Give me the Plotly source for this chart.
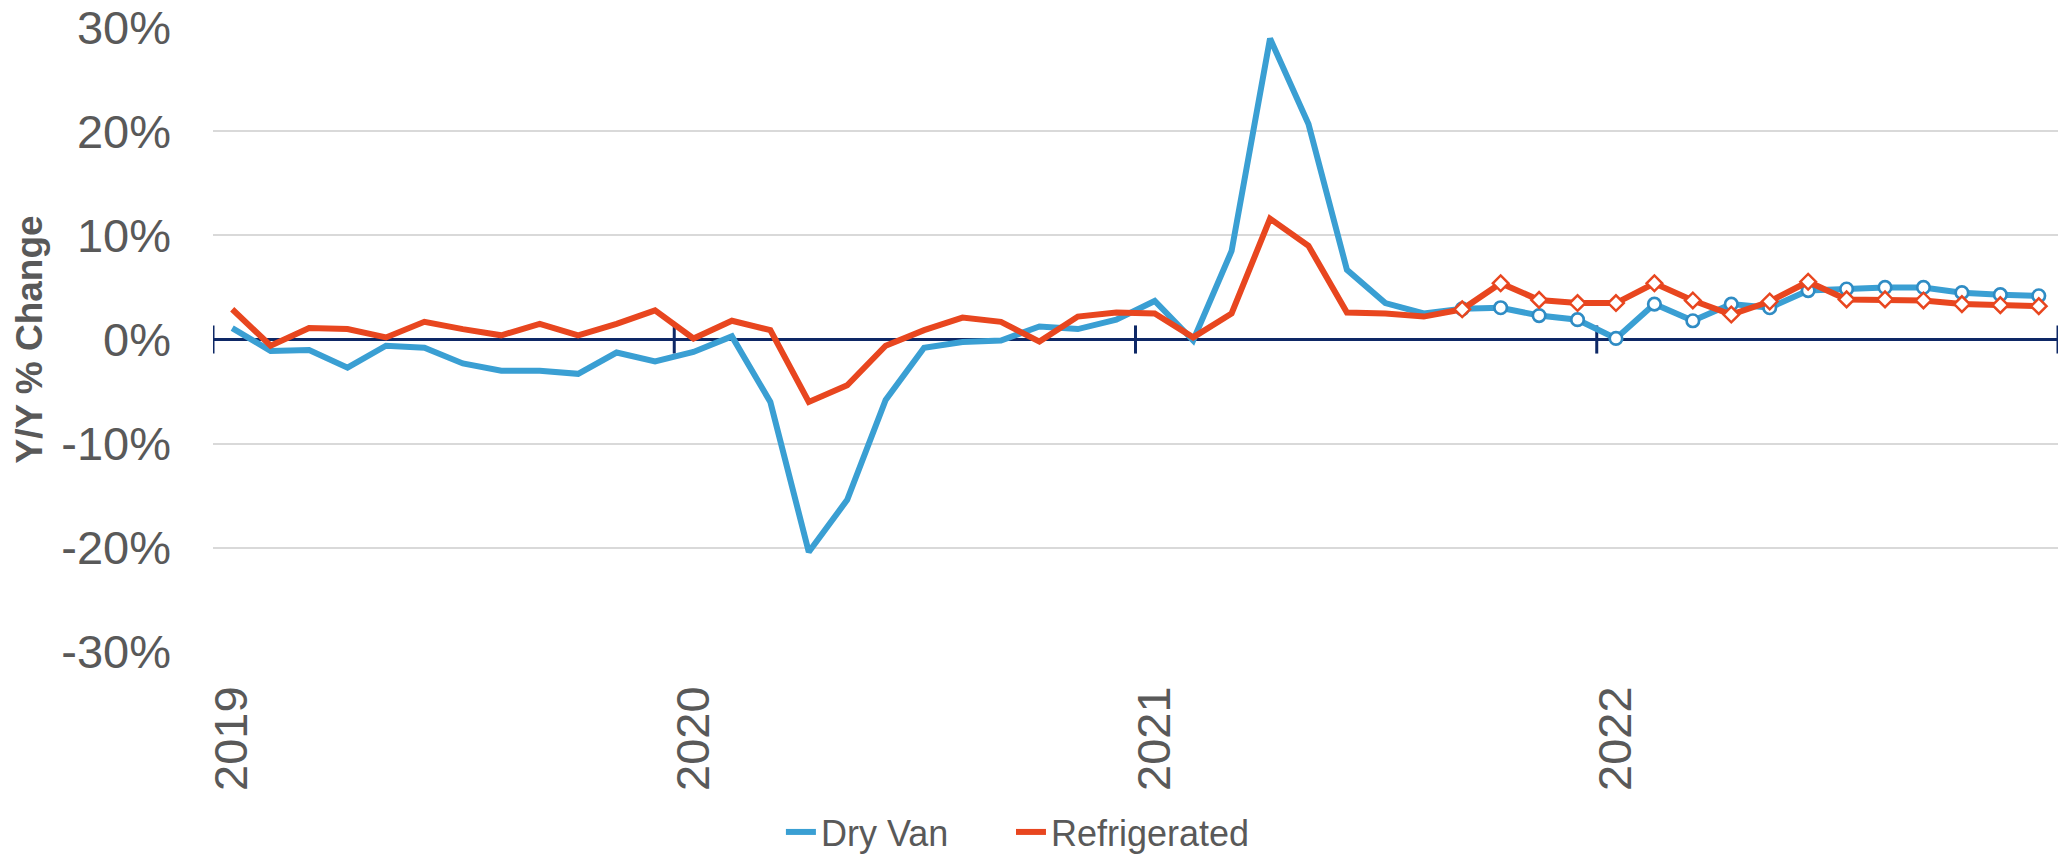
import plotly.graph_objects as go

years = [2019, 2020, 2021, 2022]
months = [f"{y}-{m:02d}" for y in years for m in range(1, 13)]

dry_van = [1.1, -1.1, -1.0, -2.7, -0.6, -0.8, -2.3, -3.0, -3.0, -3.3, -1.25, -2.1,
           -1.2, 0.3, -6.0, -20.4, -15.4, -5.8, -0.8, -0.25, -0.1, 1.25, 1.0, 1.9,
           3.7, -0.1, 8.5, 28.9, 20.7, 6.7, 3.5, 2.5, 2.95, 3.05, 2.3, 1.9,
           0.1, 3.4, 1.8, 3.4, 3.05, 4.7, 4.85, 5.0, 5.0, 4.5, 4.3, 4.2]
refrigerated = [2.9, -0.6, 1.1, 1.0, 0.2, 1.7, 1.0, 0.4, 1.5, 0.4, 1.5, 2.8,
                0.1, 1.8, 0.9, -6.0, -4.4, -0.6, 0.9, 2.1, 1.7, -0.2, 2.2, 2.6,
                2.5, 0.2, 2.5, 11.6, 9.0, 2.6, 2.5, 2.2, 2.9, 5.4, 3.8, 3.5,
                3.5, 5.4, 3.75, 2.4, 3.65, 5.55, 3.85, 3.85, 3.75, 3.4, 3.3, 3.2]
forecast_start = "2021-09"

year_tick_vals = ["2019-01", "2020-01", "2021-01", "2022-01"]
year_tick_text = ["2019", "2020", "2021", "2022"]
y_tick_vals = [-30, -20, -10, 0, 10, 20, 30]
y_tick_text = ["-30%", "-20%", "-10%", "0%", "10%", "20%", "30%"]

BLUE = "#3A9FD3"
RED = "#E8461F"
NAVY = "#0E2866"
GRAY = "#595959"
FONT = "Liberation Sans, Arial, sans-serif"

fs = months.index(forecast_start)

fig = go.Figure()
fig.add_trace(go.Scatter(x=months, y=dry_van, mode="lines", name="Dry Van",
                         line=dict(color=BLUE, width=6), legend="legend"))
fig.add_trace(go.Scatter(x=months[fs:], y=dry_van[fs:], mode="markers", showlegend=False,
                         marker=dict(symbol="circle", size=12.5, color="white",
                                     line=dict(color="#2F8CC4", width=2.7))))
fig.add_trace(go.Scatter(x=months, y=refrigerated, mode="lines", name="Refrigerated",
                         line=dict(color=RED, width=6), legend="legend2"))
fig.add_trace(go.Scatter(x=months[fs:], y=refrigerated[fs:], mode="markers", showlegend=False,
                         marker=dict(symbol="diamond", size=12, color="white",
                                     line=dict(color=RED, width=2.5))))

# year-boundary tick marks crossing the zero line
shapes = []
for b in [-0.5, 11.5, 23.5, 35.5, 47.5]:
    shapes.append(dict(type="line", xref="x", yref="y", x0=b, x1=b, y0=-1.35, y1=1.35,
                       line=dict(color=NAVY, width=3), layer="below"))

legend_common = dict(orientation="h", xref="container", yref="container",
                     xanchor="left", y=0.028, yanchor="middle",
                     font=dict(size=36, color=GRAY, family=FONT))

fig.update_layout(
    width=2067, height=856,
    margin=dict(l=213, r=9, t=27, b=204, autoexpand=False),
    plot_bgcolor="white", paper_bgcolor="white",
    font=dict(family=FONT, color=GRAY),
    shapes=shapes,
    showlegend=True,
    legend=dict(x=0.3778, **legend_common),
    legend2=dict(x=0.4891, **legend_common),
    xaxis=dict(type="category", categoryorder="array", categoryarray=months,
               range=[-0.5, 47.5], showgrid=False, showline=False, zeroline=False,
               automargin=False,
               tickmode="array", tickvals=year_tick_vals, ticktext=year_tick_text,
               tickangle=-90, ticks="", tickfont=dict(size=47, color=GRAY, family=FONT),
               ticklabelstandoff=24),
    yaxis=dict(range=[-30.01, 30.01], tickmode="array", tickvals=y_tick_vals, ticktext=y_tick_text,
               automargin=False,
               showgrid=True, gridcolor="#D9D9D9", gridwidth=1.5,
               zeroline=True, zerolinecolor=NAVY, zerolinewidth=3,
               showline=False, ticks="", tickfont=dict(size=47, color=GRAY, family=FONT),
               ticklabelstandoff=41),
    annotations=[dict(text="<b>Y/Y % Change</b>", xref="paper", yref="paper",
                      x=-0.0992, y=0.5, xanchor="center", yanchor="middle",
                      textangle=-90, showarrow=False,
                      font=dict(size=37, color=GRAY, family=FONT))],
)

fig.write_html("out.html", config={"displayModeBar": False},
               post_script="document.body.style.margin='0';")
